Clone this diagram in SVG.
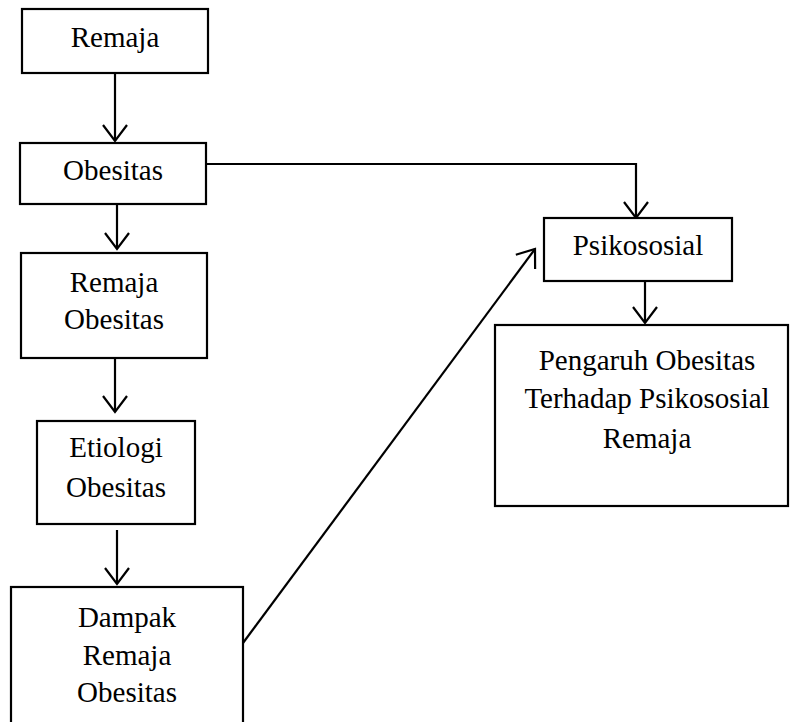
<svg xmlns="http://www.w3.org/2000/svg" width="790" height="722" viewBox="0 0 790 722">
<defs>
<style>
.box{fill:#fff;stroke:#000;stroke-width:2.2}
.t{font-family:"Liberation Serif","Times New Roman",serif;font-size:29px;fill:#000;text-anchor:middle}
.c{fill:none;stroke:#000;stroke-width:2.2}
</style>
<marker id="ah" markerUnits="userSpaceOnUse" markerWidth="30" markerHeight="30" viewBox="-20 -15 24 30" refX="0" refY="0" orient="auto">
<path d="M-16,-12 L0,0 L-16,12" fill="none" stroke="#000" stroke-width="2.2"/>
</marker>
</defs>
<rect width="790" height="722" fill="#fff"/>
<g id="connectors">
<line class="c" x1="115" y1="73" x2="115" y2="141" marker-end="url(#ah)"/>
<line class="c" x1="117" y1="204" x2="117" y2="249" marker-end="url(#ah)"/>
<line class="c" x1="115" y1="358" x2="115" y2="412" marker-end="url(#ah)"/>
<line class="c" x1="117" y1="530" x2="117" y2="584" marker-end="url(#ah)"/>
<polyline class="c" points="206,164 636,164 636,218" marker-end="url(#ah)"/>
<line class="c" x1="243" y1="643" x2="535" y2="249" marker-end="url(#ah)"/>
<line class="c" x1="645" y1="268" x2="645" y2="323" marker-end="url(#ah)"/>
</g>
<g id="remaja">
<rect class="box" x="22" y="9" width="186" height="64"/>
<text class="t" x="115" y="47">Remaja</text>
</g>
<g id="obesitas">
<rect class="box" x="20" y="143" width="186" height="61"/>
<text class="t" x="113" y="180">Obesitas</text>
</g>
<g id="remaja-obesitas">
<rect class="box" x="21" y="253" width="186" height="105"/>
<text class="t" x="114" y="292">Remaja</text>
<text class="t" x="114" y="329">Obesitas</text>
</g>
<g id="etiologi">
<rect class="box" x="37" y="421" width="158" height="103"/>
<text class="t" x="116" y="457">Etiologi</text>
<text class="t" x="116" y="497">Obesitas</text>
</g>
<g id="dampak">
<rect class="box" x="11" y="587" width="232" height="150"/>
<text class="t" x="127" y="627">Dampak</text>
<text class="t" x="127" y="665">Remaja</text>
<text class="t" x="127" y="702">Obesitas</text>
</g>
<g id="psikososial">
<rect class="box" x="544" y="218" width="188" height="63"/>
<text class="t" x="638" y="255">Psikososial</text>
</g>
<g id="pengaruh">
<rect class="box" x="495" y="325" width="293" height="181"/>
<text class="t" x="647" y="370">Pengaruh Obesitas</text>
<text class="t" x="647" y="408">Terhadap Psikososial</text>
<text class="t" x="647" y="448">Remaja</text>
</g>
</svg>
